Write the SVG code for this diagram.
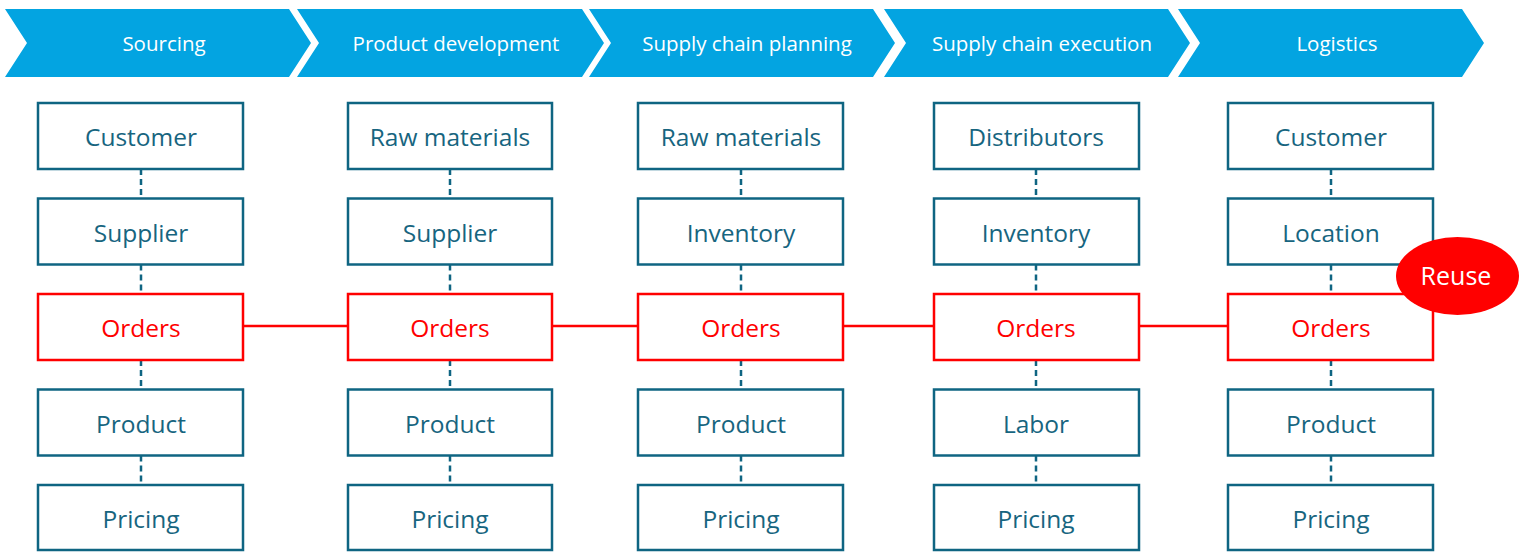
<svg xmlns="http://www.w3.org/2000/svg" width="1529" height="552" viewBox="0 0 1529 552">
<style>
.chev{fill:#03A4E1}
.ht{font-family:"Open Sans","Liberation Sans",sans-serif;font-size:20.5px;fill:#fff;text-anchor:middle}
.box{fill:#fff;stroke:#0F6582;stroke-width:2.5}
.rbox{fill:#fff;stroke:#FF0000;stroke-width:2.5}
.bt{font-family:"Open Sans","Liberation Sans",sans-serif;font-size:24.5px;fill:#17657F;text-anchor:middle}
.rt{font-family:"Open Sans","Liberation Sans",sans-serif;font-size:24.5px;fill:#FF0000;text-anchor:middle}
.dash{stroke:#0F6582;stroke-width:2.5;stroke-dasharray:6 4;fill:none}
.red{stroke:#FF0000;stroke-width:2.5;fill:none}
</style>
<g id="header">
<g id="h1"><polygon class="chev" points="5,9 289,9 311,43 289,77 5,77 27,43"/><text class="ht" x="164" y="51">Sourcing</text></g>
<g id="h2"><polygon class="chev" points="297,9 582,9 604,43 582,77 297,77 319,43"/><text class="ht" x="456" y="51">Product development</text></g>
<g id="h3"><polygon class="chev" points="589,9 873,9 895,43 873,77 589,77 611,43"/><text class="ht" x="747" y="51">Supply chain planning</text></g>
<g id="h4"><polygon class="chev" points="884,9 1168,9 1190,43 1168,77 884,77 906,43"/><text class="ht" x="1042" y="51">Supply chain execution</text></g>
<g id="h5"><polygon class="chev" points="1178,9 1462,9 1484,43 1462,77 1178,77 1200,43"/><text class="ht" x="1337" y="51">Logistics</text></g>
</g>
<g id="connectors">
<path class="dash" d="M141,169V198.5M141,264.5V294M141,360V389.5M141,455.5V485"/>
<path class="dash" d="M450,169V198.5M450,264.5V294M450,360V389.5M450,455.5V485"/>
<path class="dash" d="M741,169V198.5M741,264.5V294M741,360V389.5M741,455.5V485"/>
<path class="dash" d="M1036,169V198.5M1036,264.5V294M1036,360V389.5M1036,455.5V485"/>
<path class="dash" d="M1331,169V198.5M1331,264.5V294M1331,360V389.5M1331,455.5V485"/>
<path class="red" d="M243,326H348M552,326H638M843,326H934M1139,326H1228"/>
</g>
<g id="c1">
<g id="c1r1"><rect class="box" x="38" y="103" width="205" height="66"/><text class="bt" x="141" y="146">Customer</text></g>
<g id="c1r2"><rect class="box" x="38" y="198.5" width="205" height="66"/><text class="bt" x="141" y="241.5">Supplier</text></g>
<g id="c1r3"><rect class="rbox" x="38" y="294" width="205" height="66"/><text class="rt" x="141" y="337">Orders</text></g>
<g id="c1r4"><rect class="box" x="38" y="389.5" width="205" height="66"/><text class="bt" x="141" y="432.5">Product</text></g>
<g id="c1r5"><rect class="box" x="38" y="485" width="205" height="65"/><text class="bt" x="141" y="528">Pricing</text></g>
</g>
<g id="c2">
<g id="c2r1"><rect class="box" x="348" y="103" width="204" height="66"/><text class="bt" x="450" y="146">Raw materials</text></g>
<g id="c2r2"><rect class="box" x="348" y="198.5" width="204" height="66"/><text class="bt" x="450" y="241.5">Supplier</text></g>
<g id="c2r3"><rect class="rbox" x="348" y="294" width="204" height="66"/><text class="rt" x="450" y="337">Orders</text></g>
<g id="c2r4"><rect class="box" x="348" y="389.5" width="204" height="66"/><text class="bt" x="450" y="432.5">Product</text></g>
<g id="c2r5"><rect class="box" x="348" y="485" width="204" height="65"/><text class="bt" x="450" y="528">Pricing</text></g>
</g>
<g id="c3">
<g id="c3r1"><rect class="box" x="638" y="103" width="205" height="66"/><text class="bt" x="741" y="146">Raw materials</text></g>
<g id="c3r2"><rect class="box" x="638" y="198.5" width="205" height="66"/><text class="bt" x="741" y="241.5">Inventory</text></g>
<g id="c3r3"><rect class="rbox" x="638" y="294" width="205" height="66"/><text class="rt" x="741" y="337">Orders</text></g>
<g id="c3r4"><rect class="box" x="638" y="389.5" width="205" height="66"/><text class="bt" x="741" y="432.5">Product</text></g>
<g id="c3r5"><rect class="box" x="638" y="485" width="205" height="65"/><text class="bt" x="741" y="528">Pricing</text></g>
</g>
<g id="c4">
<g id="c4r1"><rect class="box" x="934" y="103" width="205" height="66"/><text class="bt" x="1036" y="146">Distributors</text></g>
<g id="c4r2"><rect class="box" x="934" y="198.5" width="205" height="66"/><text class="bt" x="1036" y="241.5">Inventory</text></g>
<g id="c4r3"><rect class="rbox" x="934" y="294" width="205" height="66"/><text class="rt" x="1036" y="337">Orders</text></g>
<g id="c4r4"><rect class="box" x="934" y="389.5" width="205" height="66"/><text class="bt" x="1036" y="432.5">Labor</text></g>
<g id="c4r5"><rect class="box" x="934" y="485" width="205" height="65"/><text class="bt" x="1036" y="528">Pricing</text></g>
</g>
<g id="c5">
<g id="c5r1"><rect class="box" x="1228" y="103" width="205" height="66"/><text class="bt" x="1331" y="146">Customer</text></g>
<g id="c5r2"><rect class="box" x="1228" y="198.5" width="205" height="66"/><text class="bt" x="1331" y="241.5">Location</text></g>
<g id="c5r3"><rect class="rbox" x="1228" y="294" width="205" height="66"/><text class="rt" x="1331" y="337">Orders</text></g>
<g id="c5r4"><rect class="box" x="1228" y="389.5" width="205" height="66"/><text class="bt" x="1331" y="432.5">Product</text></g>
<g id="c5r5"><rect class="box" x="1228" y="485" width="205" height="65"/><text class="bt" x="1331" y="528">Pricing</text></g>
</g>
<g id="reuse"><ellipse cx="1457.5" cy="276" rx="61.5" ry="39" fill="#FF0000"/><text x="1456" y="285" font-family="'Open Sans','Liberation Sans',sans-serif" font-size="25" fill="#fff" text-anchor="middle">Reuse</text></g>
</svg>
